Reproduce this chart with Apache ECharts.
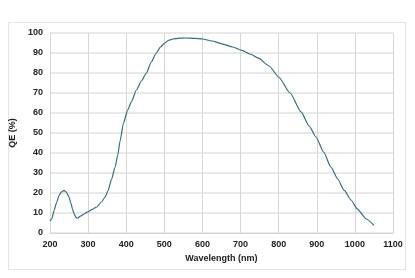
<!DOCTYPE html>
<html><head><meta charset="utf-8">
<script src="https://cdn.jsdelivr.net/npm/echarts@6/dist/echarts.min.js"></script>
<style>html,body{margin:0;padding:0;background:#fff}#c{width:415px;height:278px}</style>
</head><body><div id="c"></div>
<script>
const wavelengths = [200,205,211,218,224,230,237,243,250,255,259,264,268,272,280,290,297,310,323,335,345,352,362,371,378,384,393,404,414,427,440,453,466,479,490,501,512,522,540,557,580,600,625,651,680,704,725,747,775,800,830,859,880,898,918,937,955,972,990,1006,1030,1050];
const qe =        [5.9,7,11.3,15.5,18.8,20.5,21.3,20.5,18,15,12.1,9.4,7.9,7.4,8.4,9.5,10.4,11.7,13,15.5,18,21,27,33,39,46,55,61.5,65.7,71.5,76,80,85.5,90,93,95,96.4,97,97.4,97.5,97.3,97,96,94.6,93,91.3,89.5,87.4,83.5,78,70,60.6,53.5,48,40.5,33,27,21.3,16.5,12.1,7,3.8];
const xTicks = [200,300,400,500,600,700,800,900,1000,1100];
const yTicks = [0,10,20,30,40,50,60,70,80,90,100];

const chart = echarts.init(document.getElementById('c'), null, {renderer:'canvas'});
const lbl = {fontFamily:'Liberation Sans, Arial, sans-serif', fontWeight:'bold', fontSize:9, color:'#222'};
chart.setOption({
  animation:false,
  backgroundColor:'#fff',
  graphic:[{type:'rect', shape:{x:8.5,y:22.5,width:397,height:247}, style:{fill:null, stroke:'#e3e3e3', lineWidth:1}, silent:true}],
  grid:{left:46, right:22, top:33, bottom:45},
  xAxis:{type:'value', min:xTicks[0], max:xTicks[xTicks.length-1], interval:100,
    name:'Wavelength (nm)', nameLocation:'middle', nameGap:21,
    nameTextStyle:Object.assign({}, lbl),
    axisLine:{show:true, lineStyle:{color:'#d6d6d6'}}, axisTick:{show:false},
    axisLabel:Object.assign({margin:7, formatter:v=>String(v)}, lbl),
    splitLine:{show:true, lineStyle:{color:'#d6d6d6', width:1}}},
  yAxis:{type:'value', min:yTicks[0], max:yTicks[yTicks.length-1], interval:10,
    name:'QE (%)', nameLocation:'middle', nameGap:25, nameRotate:90,
    nameTextStyle:Object.assign({}, lbl),
    axisLine:{show:true, lineStyle:{color:'#d6d6d6'}}, axisTick:{show:false},
    axisLabel:Object.assign({margin:7, formatter:v=>String(v)}, lbl),
    splitLine:{show:true, lineStyle:{color:'#e2e2e2', width:1.5}}},
  series:[{type:'line', data:wavelengths.map((w,i)=>[w,qe[i]]), smooth:0.2, smoothMonotone:'x', showSymbol:false,
    lineStyle:{color:'#2f6f82', width:1.2}}]
});
</script></body></html>
